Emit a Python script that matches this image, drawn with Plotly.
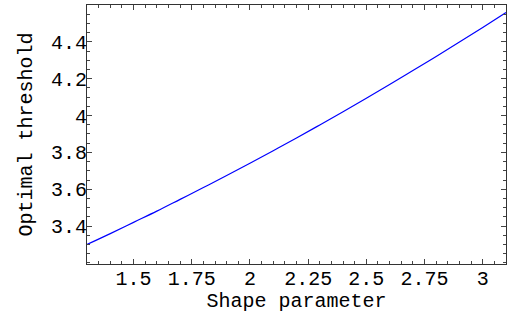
import plotly.graph_objects as go

shape = [1.3, 1.4, 1.5, 1.6, 1.7, 1.8, 1.9, 2.0, 2.1, 2.2, 2.3, 2.4, 2.5,
         2.6, 2.7, 2.8, 2.9, 3.0, 3.1]
threshold = [3.300, 3.359, 3.420, 3.481, 3.545, 3.609, 3.674, 3.741, 3.809,
             3.878, 3.949, 4.021, 4.094, 4.168, 4.244, 4.321, 4.399, 4.478,
             4.559]

x_tickvals = [1.5, 1.75, 2, 2.25, 2.5, 2.75, 3]
x_ticktext = ["1.5", "1.75", "2", "2.25", "2.5", "2.75", "3"]
y_tickvals = [3.4, 3.6, 3.8, 4.0, 4.2, 4.4]
y_ticktext = ["3.4", "3.6", "3.8", "4", "4.2", "4.4"]

font = dict(family="Liberation Mono, Courier New, monospace", size=20, color="black")

fig = go.Figure()
fig.add_trace(go.Scatter(x=shape, y=threshold, mode="lines",
                         line=dict(color="rgb(0,0,255)", width=1.2, shape="spline"),
                         showlegend=False, hoverinfo="skip"))

axis_common = dict(showgrid=False, zeroline=False, showline=True, linecolor="#333",
                   linewidth=1, mirror="allticks", ticks="inside", ticklen=5,
                   tickcolor="#444", tickwidth=1, tickfont=font, automargin=False)

fig.update_layout(
    width=510, height=313,
    margin=dict(l=87, r=4, t=5, b=49),
    paper_bgcolor="white", plot_bgcolor="white",
    font=font,
    xaxis=dict(range=[1.3, 3.1], tickvals=x_tickvals, ticktext=x_ticktext,
               minor=dict(dtick=0.05, tick0=1.5, ticks="inside", ticklen=3, tickcolor="#444"),
               ticklabelstandoff=-4,
               title=dict(text="Shape parameter", font=font, standoff=2),
               **axis_common),
    yaxis=dict(range=[3.194, 4.6], tickvals=y_tickvals, ticktext=y_ticktext,
               minor=dict(dtick=0.05, tick0=3.4, ticks="inside", ticklen=3, tickcolor="#444"),
               ticklabelstandoff=-5,
               title=dict(text="Optimal threshold", font=font, standoff=12),
               **axis_common),
)

fig.write_html("out.html", config={"displayModeBar": False, "staticPlot": True},
               post_script="document.body.style.margin='0';document.body.style.overflow='hidden';")
